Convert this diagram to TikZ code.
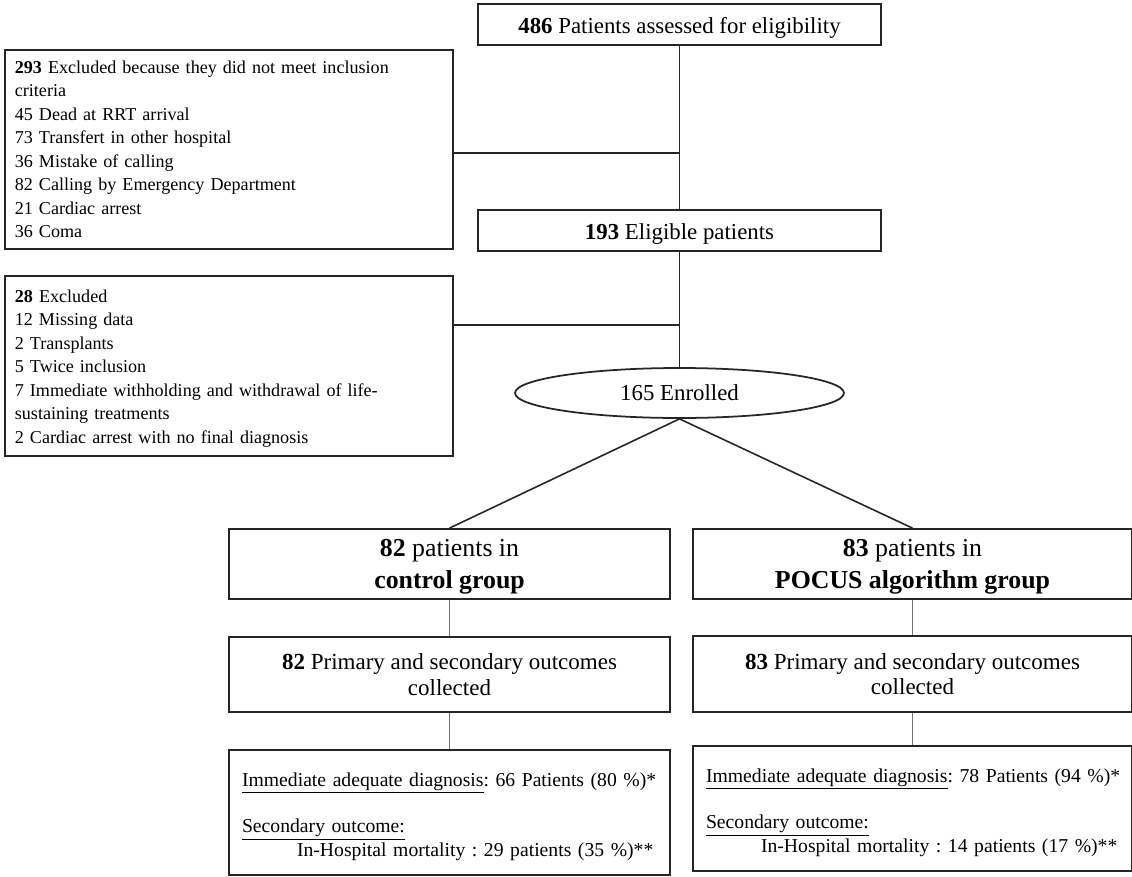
\documentclass[tikz,border=0pt]{standalone}
\usepackage{fontspec}
\setmainfont{Liberation Serif}
\usetikzlibrary{shapes.geometric}

\tikzset{
  box/.style={draw=black!85, line width=1pt, align=center, inner sep=0pt, text depth=0pt},
  listbox/.style={draw=black!85, line width=1pt, align=left, anchor=north west,
    inner xsep=0.2cm, inner ysep=0pt, text width=8.56cm, minimum height=#1,
    font=\fontsize{10.3}{13.4}\selectfont},
  outbox/.style={draw=black!85, line width=1pt, align=left,
    inner xsep=0.26cm, inner ysep=0pt, text width=#1, minimum height=2.5cm,
    font=\fontsize{11.2}{13.6}\selectfont},
  link/.style={draw=black!85, line width=0.9pt},
  thinlink/.style={draw=black!55, line width=0.8pt},
}

\begin{document}
\frenchspacing
\begin{tikzpicture}[x=0.02cm,y=-0.02cm]
        \useasboundingbox (0,0) rectangle (1132,876);

        %%%%%%%%%% Selezione %%%%%%%%%%
        \node[box, minimum width=8.06cm, minimum height=0.82cm, text height=9.8pt, font=\fontsize{13}{15}\selectfont]
            (assessed) at (679.5,24.5) {\textbf{486} Patients assessed for eligibility};
        \node[box, minimum width=8.06cm, minimum height=0.82cm, text height=10.4pt, font=\fontsize{13}{15}\selectfont]
            (eligible) at (679.5,230.5) {\textbf{193} Eligible patients};
        \node[draw=black!85, line width=1pt, ellipse, minimum width=6.58cm, minimum height=1cm,
            inner sep=0pt, text depth=0pt, font=\fontsize{13}{15}\selectfont]
            (enrolled) at (679.5,393) {165 Enrolled};

        \node[listbox=3.98cm] (exclA) at (4,49) {\textbf{293} Excluded because they did not meet inclusion\\
            criteria\\
            45 Dead at RRT arrival\\
            73 Transfert in other hospital\\
            36 Mistake of calling\\
            82 Calling by Emergency Department\\
            21 Cardiac arrest\\
            36 Coma};
        \node[listbox=3.6cm] (exclB) at (4,275) {\rule{0pt}{10pt}\textbf{28} Excluded\\
            12 Missing data\\
            2 Transplants\\
            5 Twice inclusion\\
            7 Immediate withholding and withdrawal of life-\\
            sustaining treatments\\
            2 Cardiac arrest with no final diagnosis};

        \coordinate (jA) at (679.5,153);
        \coordinate (jB) at (679.5,325);

        \draw[link] (assessed) -- (eligible);
        \draw[link] (eligible) -- (enrolled);
        \draw[link] (exclA.east |- jA) -- (jA);
        \draw[link] (exclB.east |- jB) -- (jB);

        %%%%%%%%%% Gruppi %%%%%%%%%%
        \node[box, minimum width=8.82cm, minimum height=1.4cm, font=\fontsize{14.7}{18}\selectfont]
            (control) at (449.5,564) {\textbf{82} patients in\\\textbf{control group}};
        \node[box, minimum width=8.78cm, minimum height=1.4cm, font=\fontsize{14.7}{18}\selectfont]
            (pocus) at (912.5,564) {\textbf{83} patients in\\\textbf{POCUS algorithm group}};

        \node[box, minimum width=8.82cm, minimum height=1.5cm, font=\fontsize{13.1}{14.4}\selectfont]
            (primA) at (449.5,674.5) {\textbf{82} Primary and secondary outcomes\\collected};
        \node[box, minimum width=8.78cm, minimum height=1.52cm, font=\fontsize{13.1}{14.4}\selectfont]
            (primB) at (912.5,674) {\textbf{83} Primary and secondary outcomes\\collected};

        \node[outbox=8.3cm] (outA) at (449.5,812.5) {\rule{0pt}{12.5pt}\mbox{\underline{Immediate adequate diagnosis}: 66 Patients (80 \%)*}\\[13pt]
            \underline{Secondary outcome:}\\
            \hspace*{1.1cm}\mbox{In-Hospital mortality : 29 patients (35 \%)**}};
        \node[outbox=8.26cm] (outB) at (912.5,808.5) {\rule{0pt}{12.5pt}\mbox{\underline{Immediate adequate diagnosis}: 78 Patients (94 \%)*}\\[13pt]
            \underline{Secondary outcome:}\\
            \hspace*{1.1cm}\mbox{In-Hospital mortality : 14 patients (17 \%)**}};

        \draw[link] (enrolled.south) -- (control.north);
        \draw[link] (enrolled.south) -- (pocus.north);
        \draw[thinlink] (control) -- (primA);
        \draw[thinlink] (primA) -- (outA);
        \draw[thinlink] (pocus) -- (primB);
        \draw[thinlink] (primB) -- (outB);
\end{tikzpicture}
\end{document}
